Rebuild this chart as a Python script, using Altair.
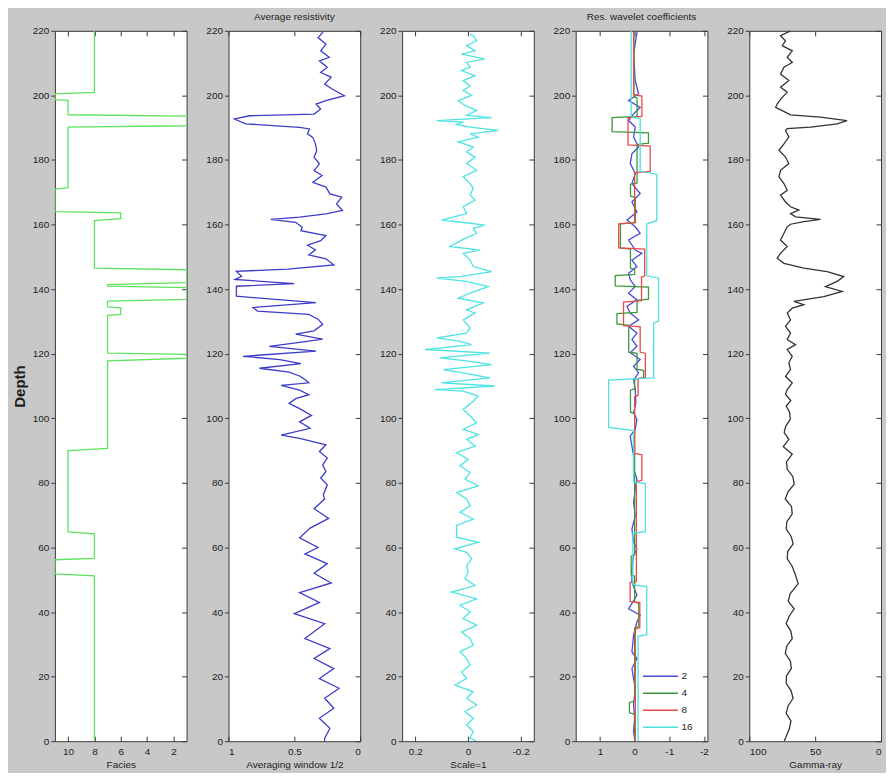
import altair as alt
import pandas as pd

# ---------------- data ----------------
depth_ticks = [0, 20, 40, 60, 80, 100, 120, 140, 160, 180, 200, 220]

facies_depth = [220, 200.9, 200.5, 198.7, 198.5, 194.0, 193.6, 190.6, 190.2, 171.4, 171.0, 164.0,
                163.6, 161.8, 161.2, 146.5, 146.0, 142.0, 141.4, 140.9, 140.5, 136.8, 136.3,
                134.5, 134.2, 132.2, 131.9, 120.2, 119.8, 118.6, 117.8, 90.7, 90.0, 64.8,
                64.2, 56.6, 56.2, 51.8, 51.2, 0]
facies_value = [8, 8, 11, 11, 10, 10, 1, 1, 10, 10, 11, 11,
                6, 6, 8, 8, 1, 1, 7, 7, 1, 1, 7,
                7, 6, 6, 7, 7, 1, 1, 7, 7, 10, 10,
                8, 8, 11, 11, 8, 8]

res_depth = [220, 219.5, 217.9, 215.9, 213.8, 211.8, 210.7, 208.7, 207.1, 205.6, 203.5, 201.9,
             199.9, 198.4, 197.3, 195.8, 194.2, 193.7, 192.7, 191.2, 190.1, 189.6, 188.1, 187.0,
             185.0, 182.9, 180.9, 178.8, 176.7, 175.2, 173.1, 171.6, 169.5, 168.5, 166.4, 164.4,
             163.3, 162.3, 161.6, 160.7, 159.2, 158.1, 156.6, 155.0, 153.6, 152.2, 150.6, 149.4,
             147.5, 146.2, 145.5, 144.0, 143.0, 141.7, 140.9, 137.8, 135.8, 134.3, 133.2, 132.2,
             130.7, 129.1, 127.1, 126.1, 124.5, 123.5, 122.3, 120.8, 119.2, 118.2, 116.9, 115.5,
             114.3, 113.1, 112.3, 111.0, 110.2, 108.7, 107.3, 106.1, 104.6, 103.0, 100.9, 98.9,
             96.9, 94.8, 93.8, 91.8, 89.7, 87.7, 85.6, 83.5, 81.5, 79.4, 76.3, 75, 72, 69, 66,
             63, 60, 58, 55, 52, 49, 46, 43, 39.5, 36.4, 31.8, 28.7, 25.6, 22.5, 19.4, 16.4,
             13.3, 10.2, 7.1, 4, 0.9, 0]
res_value = [0.285, 0.285, 0.32, 0.26, 0.30, 0.235, 0.31, 0.25, 0.30, 0.22, 0.27, 0.21,
             0.12, 0.26, 0.335, 0.30, 0.35, 0.84, 0.955, 0.87, 0.46, 0.385, 0.40, 0.36,
             0.34, 0.33, 0.35, 0.31, 0.35, 0.29, 0.36, 0.26, 0.23, 0.14, 0.18, 0.135,
             0.26, 0.46, 0.68, 0.49, 0.44, 0.45, 0.26, 0.30, 0.40, 0.34, 0.39, 0.26,
             0.20, 0.55, 0.94, 0.90, 0.95, 0.50, 0.94, 0.94, 0.335, 0.815, 0.78, 0.39,
             0.32, 0.285, 0.35, 0.49, 0.285, 0.46, 0.69, 0.335, 0.89, 0.61, 0.45, 0.765,
             0.54, 0.46, 0.43, 0.39, 0.60, 0.46, 0.39, 0.49, 0.54, 0.46, 0.37, 0.46,
             0.38, 0.60, 0.46, 0.26, 0.31, 0.25, 0.285, 0.26, 0.30, 0.25, 0.28, 0.27, 0.35, 0.24, 0.38,
             0.46, 0.32, 0.42, 0.25, 0.35, 0.22, 0.46, 0.31, 0.50, 0.27, 0.42, 0.23, 0.35, 0.20, 0.31, 0.16,
             0.27, 0.20, 0.31, 0.23, 0.27, 0.27]

scale1_depth = [219.0, 218.5, 216.9, 215.4, 213.8, 212.8, 211.3, 210.2, 208.7, 207.7, 206.1, 204.6,
                203.0, 201.5, 200.0, 198.4, 196.9, 195.3, 193.8, 193.1, 192.2, 191.7, 191.0, 190.2,
                189.2, 188.1, 187.1, 185.6, 184.0, 182.5, 180.9, 178.9, 176.8, 174.8, 172.7, 171.2,
                169.1, 167.6, 165.5, 163.4, 161.4, 160.4, 159.8, 158.8, 157.3, 155.2, 153.2, 152.1,
                151.1, 149.0, 147.0, 145.4, 143.9, 143.4, 142.4, 140.8, 138.8, 137.2, 135.7, 133.6,
                132.6, 130.5, 128.0, 126.4, 124.9, 123.8, 122.8, 121.3, 120.2, 118.7, 117.7, 116.6,
                115.1, 114.1, 112.5, 111.0, 110.0, 108.9, 108.4, 106.9, 105.3, 102.7, 100.7, 98.6,
                96.6, 95.0, 93.5, 91.4, 89.4, 87.3, 85.3, 83.2, 81.1, 79.1, 77.0, 75.0, 72.9, 70.9,
                68.8, 66.8, 63.2, 61.6, 59.6, 58.5, 56.5, 54.4, 52.4, 50.3, 48.2, 46.2, 44.1, 42.1,
                40.0, 38.0, 35.9, 33.8, 31.8, 29.7, 27.7, 25.6, 23.6, 21.5, 19.4, 17.4, 15.3, 13.3,
                11.2, 9.2, 7.1, 5.0, 3.0, 0.9, 0]
scale1_value = [-0.008, -0.020, -0.033, 0.005, -0.027, 0.024, -0.064, 0.005, -0.008, 0.024, -0.027, 0.018,
                -0.008, 0.018, -0.014, 0.037, 0.011, -0.033, 0.005, -0.090, 0.119, 0.018, 0.043, -0.008,
                -0.115, -0.008, -0.039, 0.037, -0.020, 0.005, -0.027, 0.005, -0.033, 0.018, -0.008, -0.020,
                -0.008, -0.027, 0.018, 0.005, 0.100, -0.008, -0.064, -0.020, -0.033, 0.024, 0.068, -0.046,
                0.018, -0.008, -0.020, -0.090, 0.030, 0.119, 0.005, -0.077, -0.008, 0.037, -0.058, 0.005,
                -0.027, 0.018, -0.008, 0.005, 0.119, 0.030, -0.014, 0.163, -0.083, 0.106, -0.001, -0.090,
                0.093, 0.018, -0.083, 0.100, -0.102, 0.125, 0.018, -0.039, -0.020, 0.018, -0.008, -0.033,
                0.018, -0.039, 0.005, -0.027, 0.043, -0.001, 0.030, -0.008, 0.011, -0.039, 0.043, 0.005, -0.008, 0.030,
                -0.020, 0.043, 0.043, -0.039, 0.049, 0.005, -0.014, 0.005, -0.001, 0.011, -0.027, 0.062, -0.033, 0.030,
                -0.008, 0.018, -0.033, 0.024, -0.008, -0.020, 0.030, 0.005, -0.008, 0.024, 0.005, 0.049, -0.020, 0.005,
                -0.033, 0.011, -0.020, 0.005, -0.020, -0.008, -0.033]

w2_depth = [220, 219.5, 212.8, 204.6, 200.5, 198.4, 196.3, 194.3, 192.2, 190.2, 187.1, 184.0, 181.9,
            178.9, 175.8, 172.7, 169.6, 167.0, 163.9, 161.4, 159.3, 157.3, 155.2, 152.1, 151.1,
            149.0, 147.0, 144.9, 142.9, 140.8, 138.7, 136.7, 134.6, 132.6, 130.5, 128.5, 126.4,
            124.4, 122.3, 120.3, 118.2, 116.1, 114.1, 112.5, 112.0, 108.9, 104.8, 101.7, 99.7,
            96.6, 94.5, 91.4, 88.4, 84.2, 81.2, 78.1, 74.0, 69.8, 65.7, 61.6, 59.6, 57.5, 53.4,
            49.3, 45.2, 41.0, 39.0, 36.9, 32.8, 27.7, 25.6, 22.5, 19.4, 16.4, 11.2, 7.1, 3.0, 0.9, 0]
w2_value = [-0.066, -0.066, 0.03, -0.018, -0.114, 0.174, -0.16, 0.03, 0.174, -0.018, 0.03, -0.114, 0.078,
            0.126, -0.018, 0.078, -0.16, 0.078, -0.066, 0.22, -0.018, -0.16, 0.174, -0.018, -0.21,
            0.078, -0.066, 0.174, 0.126, -0.018, 0.174, -0.066, 0.22, 0.126, -0.114, 0.174, -0.066,
            0.078, -0.066, 0.126, -0.16, 0.03, -0.114, -0.018, 0.03, -0.018, -0.037, 0.03, -0.066,
            -0.018, 0.126, 0.078, 0.03, 0.03, -0.066, -0.018, 0.03, -0.018, 0.078, 0.03, -0.066, 0.03, 0.078,
            0.078, -0.066, 0.174, -0.16, -0.066, 0.03, 0.078, -0.066, 0.077, 0.03, -0.018, 0.03, 0.0, 0.03, 0.0, 0.0]

w4_depth = [220, 199.6, 199.2, 193.5, 193.1, 188.8, 188.4, 185.2, 184.8, 172.9, 172.5, 168.8, 168.4,
            160.6, 160.2, 152.8, 152.4, 146.5, 146.1, 144.6, 144.2, 141.0, 140.6, 136.9, 136.5,
            132.8, 132.4, 129.2, 128.8, 120.5, 120.1, 115.2, 114.8, 112.5, 112.1, 109.1, 108.7,
            101.9, 101.5, 57.7, 57.3, 51.5, 51.1, 43.1, 42.7, 35.5, 35.1, 12.4, 12.0, 8.8, 8.4, 0]
w4_value = [0.02, 0.02, -0.07, -0.07, 0.65, 0.65, -0.40, -0.40, -0.07, -0.07, 0.12, 0.12, -0.02,
            -0.02, 0.41, 0.41, 0.12, 0.12, 0.0, 0.0, 0.56, 0.56, -0.40, -0.40, -0.07,
            -0.07, 0.51, 0.51, 0.17, 0.17, -0.07, -0.07, -0.26, -0.26, 0.0, 0.0, 0.12,
            0.12, 0.0, 0.0, 0.10, 0.10, 0.0, 0.0, -0.12, -0.12, 0.0, 0.0, 0.15, 0.15, 0.0, 0.0]

w8_depth = [220, 200.2, 199.8, 193.5, 193.1, 184.7, 184.3, 176.5, 176.1, 160.6, 160.2, 152.8, 152.4,
            144.1, 143.7, 136.4, 136.0, 128.7, 128.3, 120.5, 120.1, 112.7, 112.3, 107.1, 106.7,
            89.1, 88.7, 80.8, 80.4, 49.5, 49.1, 43.3, 42.9, 35.1, 34.7, 0]
w8_value = [0.03, 0.03, -0.21, -0.21, 0.19, 0.19, -0.45, -0.45, 0.0, 0.0, 0.46, 0.46, -0.29,
            -0.29, -0.20, -0.20, 0.32, 0.32, -0.16, -0.16, -0.31, -0.31, -0.10, -0.10, 0.0,
            0.0, -0.21, -0.21, -0.05, -0.05, 0.13, 0.13, -0.15, -0.15, -0.02, -0.02]

w16_depth = [220, 193.5, 192.8, 176.5, 175.6, 161.2, 160.2, 144.2, 143.4, 130.2, 129.4, 112.5, 111.8,
             97.2, 96.2, 80.3, 79.8, 64.9, 64.4, 48.4, 47.9, 33.0, 32.5, 0]
w16_value = [0.10, 0.10, -0.16, -0.16, -0.64, -0.64, -0.35, -0.35, -0.69, -0.69, -0.55, -0.55, 0.75,
             0.75, 0.03, 0.03, -0.31, -0.31, 0.05, 0.05, -0.35, -0.35, -0.10, -0.10]

gamma_depth = [220, 218.5, 216.9, 215.4, 213.8, 211.8, 210.2, 208.7, 206.6, 204.6, 202.5, 201.0,
               199.4, 197.4, 196.3, 195.3, 194.0, 193.3, 192.2, 191.2, 190.2, 189.7, 189.1, 187.1,
               185.0, 183.0, 180.9, 178.9, 176.8, 174.8, 172.7, 170.6, 169.1, 167.0, 165.5, 164.5,
               163.4, 162.4, 161.6, 160.9, 160.1, 159.3, 157.3, 155.2, 153.2, 151.1, 149.6, 148.0,
               146.5, 145.4, 143.9, 142.4, 140.8, 139.3, 137.7, 136.2, 135.2, 134.1, 132.6, 130.5,
               128.5, 126.4, 124.4, 122.8, 121.3, 119.2, 117.2, 115.1, 113.0, 111.0, 108.9, 107.4,
               105.5, 103.8, 102.0, 99.7, 97.5, 95.6, 93.5, 91.2, 88.9, 86.5, 84.2, 82.0, 79.6,
               77.3, 75.0, 72.7, 70.4, 68.0, 65.7, 63.4, 61.1, 58.8, 56.5, 54.2, 51.8, 48.8,
               47.2, 45.7, 43.4, 41.0, 38.7, 36.4, 34.1, 31.8, 29.5, 27.2, 24.8, 22.5, 20.2,
               17.9, 15.6, 13.3, 11.0, 8.6, 6.3, 4.0, 2.0, 0]
gamma_value = [68.7, 76.3, 72.5, 75.0, 67.4, 71.2, 67.4, 73.7, 76.3, 70.0, 76.3, 71.2,
               75.0, 78.8, 80.0, 75.0, 68.7, 46.0, 25.8, 33.3, 53.5, 71.2, 72.5, 70.0,
               73.7, 77.5, 72.5, 70.0, 76.3, 77.5, 73.7, 71.2, 76.3, 72.5, 68.7, 62.4,
               68.7, 64.9, 46.0, 58.6, 68.7, 71.2, 73.7, 76.3, 71.2, 76.3, 78.8, 73.7,
               58.6, 40.9, 28.3, 33.3, 42.2, 29.5, 43.4, 66.2, 58.6, 67.4, 71.2, 68.7,
               72.5, 68.7, 71.2, 64.9, 71.2, 67.4, 70.0, 68.7, 72.5, 67.4, 71.2, 72.5,
               68.5, 72.0, 69.5, 68.9, 72.4, 73.5, 70.0, 74.2, 67.4, 71.8, 71.2, 67.0, 65.9,
               70.5, 72.7, 68.0, 67.4, 71.5, 72.0, 68.2, 66.7, 70.8, 71.2, 67.5, 65.2, 62.9,
               66.0, 68.9, 70.5, 65.9, 69.8, 72.0, 68.5, 67.4, 71.5, 72.7, 68.8, 68.1, 71.8,
               72.0, 68.3, 66.7, 70.5, 72.0, 68.4, 69.5, 71.5, 73.5]

# ---------------- styling ----------------
W, H = 132, 712
BG = "#c8c8c8"
FONT = "Liberation Sans"
TXT = "#1e1e1e"
NUM_FMT = "replace(format(datum.value, '~g'), '\u2212', '-')"


def frame(depths, values, extra=None):
    df = pd.DataFrame({"d": depths, "v": values})
    df["i"] = range(len(df))
    if extra:
        for k, val in extra.items():
            df[k] = val
    return df


def panel(df, domain, xticks, xtitle, title=None, color=None, color_enc=None, first=False):
    xscale = alt.Scale(domain=domain, nice=False, zero=False)
    yscale = alt.Scale(domain=[0, 220], nice=False, zero=False)
    xaxis_kw = dict(values=xticks, orient="bottom", offset=-5, tickSize=5, labelPadding=5,
                    domain=False, title=xtitle if xtitle else None, titlePadding=3,
                    labelExpr=NUM_FMT)
    yaxis_kw = dict(values=depth_ticks, tickSize=4, labelPadding=2, domain=False,
                    title="Depth" if first else None)
    if first:
        yaxis_kw.update(titleFontSize=15, titleFontWeight="bold", titlePadding=5)
    enc = dict(
        x=alt.X("v:Q", scale=xscale, axis=alt.Axis(**xaxis_kw)),
        y=alt.Y("d:Q", scale=yscale, axis=alt.Axis(**yaxis_kw)),
        order=alt.Order("i:Q"),
    )
    if color_enc is not None:
        enc["color"] = color_enc
        line = alt.Chart(df).mark_line(strokeWidth=1.3, clip=True).encode(**enc)
    else:
        line = alt.Chart(df).mark_line(strokeWidth=1.3, clip=True, color=color).encode(**enc)
    ticks = alt.Chart(df).mark_line(opacity=0).encode(
        x=alt.X("v:Q", scale=xscale,
                axis=alt.Axis(values=xticks, orient="top", offset=-5, tickSize=5, labels=False,
                              domain=False, title=None)),
        y=alt.Y("d:Q", scale=yscale,
                axis=alt.Axis(values=depth_ticks, orient="right", offset=-5, tickSize=5,
                              labels=False, domain=False, title=None)),
    )
    props = dict(width=W, height=H)
    if title:
        props["title"] = alt.TitleParams(title, fontSize=10, font=FONT, fontWeight="normal",
                                         color=TXT, offset=4)
    return alt.layer(line, ticks).resolve_axis(x="independent", y="independent").properties(**props)


facies_df = frame(facies_depth, facies_value)
res_df = frame(res_depth, res_value)
scale1_df = frame(scale1_depth, scale1_value)
gamma_df = frame(gamma_depth, gamma_value)
wave_df = pd.concat([
    frame(w2_depth, w2_value, {"s": "2"}),
    frame(w4_depth, w4_value, {"s": "4"}),
    frame(w8_depth, w8_value, {"s": "8"}),
    frame(w16_depth, w16_value, {"s": "16"}),
], ignore_index=True)

SPACING = 42
P4_X = 3 * (W + SPACING)

p1 = panel(facies_df, [11, 1], [10, 8, 6, 4, 2], "Facies", color="#5fe35f", first=True)
p2 = panel(res_df, [1, 0], [1, 0.5, 0], "Averaging window 1/2", title="Average resistivity",
           color="#3c3cc8")
p3 = panel(scale1_df, [0.25, -0.25], [0.2, 0, -0.2], "Scale=1", color="#4de3e3")
p4 = panel(
    wave_df, [1.7, -2.1], [1, 0, -1, -2], None, title="Res. wavelet coefficients",
    color_enc=alt.Color(
        "s:N",
        scale=alt.Scale(domain=["2", "4", "8", "16"],
                        range=["#4a4ad8", "#3a9a3a", "#e84a4a", "#4de0e0"]),
        legend=alt.Legend(orient="none", legendX=P4_X + 80, legendY=642, title=None,
                          symbolType="M-5,0H5", symbolSize=49, symbolStrokeWidth=1.5,
                          labelFontSize=10, labelFont=FONT, labelColor=TXT, padding=0,
                          rowPadding=7, labelOffset=16),
    ),
)
p5 = panel(gamma_df, [100, 0], [100, 50, 0], "Gamma-ray", color="#333333")

chart = alt.hconcat(p1, p2, p3, p4, p5, spacing=SPACING, bounds="flush").properties(
    background=BG,
    padding={"left": 3, "top": 2, "right": 4, "bottom": 2},
).configure_view(
    fill="white", stroke="#3a3a3a", strokeWidth=1
).configure_axis(
    grid=False, labelFont=FONT, titleFont=FONT, labelFontSize=10, titleFontSize=10,
    labelColor=TXT, titleColor=TXT, tickColor="#3a3a3a", titleFontWeight="normal",
)

chart.save("out.html", embed_options={"renderer": "svg", "actions": False})
